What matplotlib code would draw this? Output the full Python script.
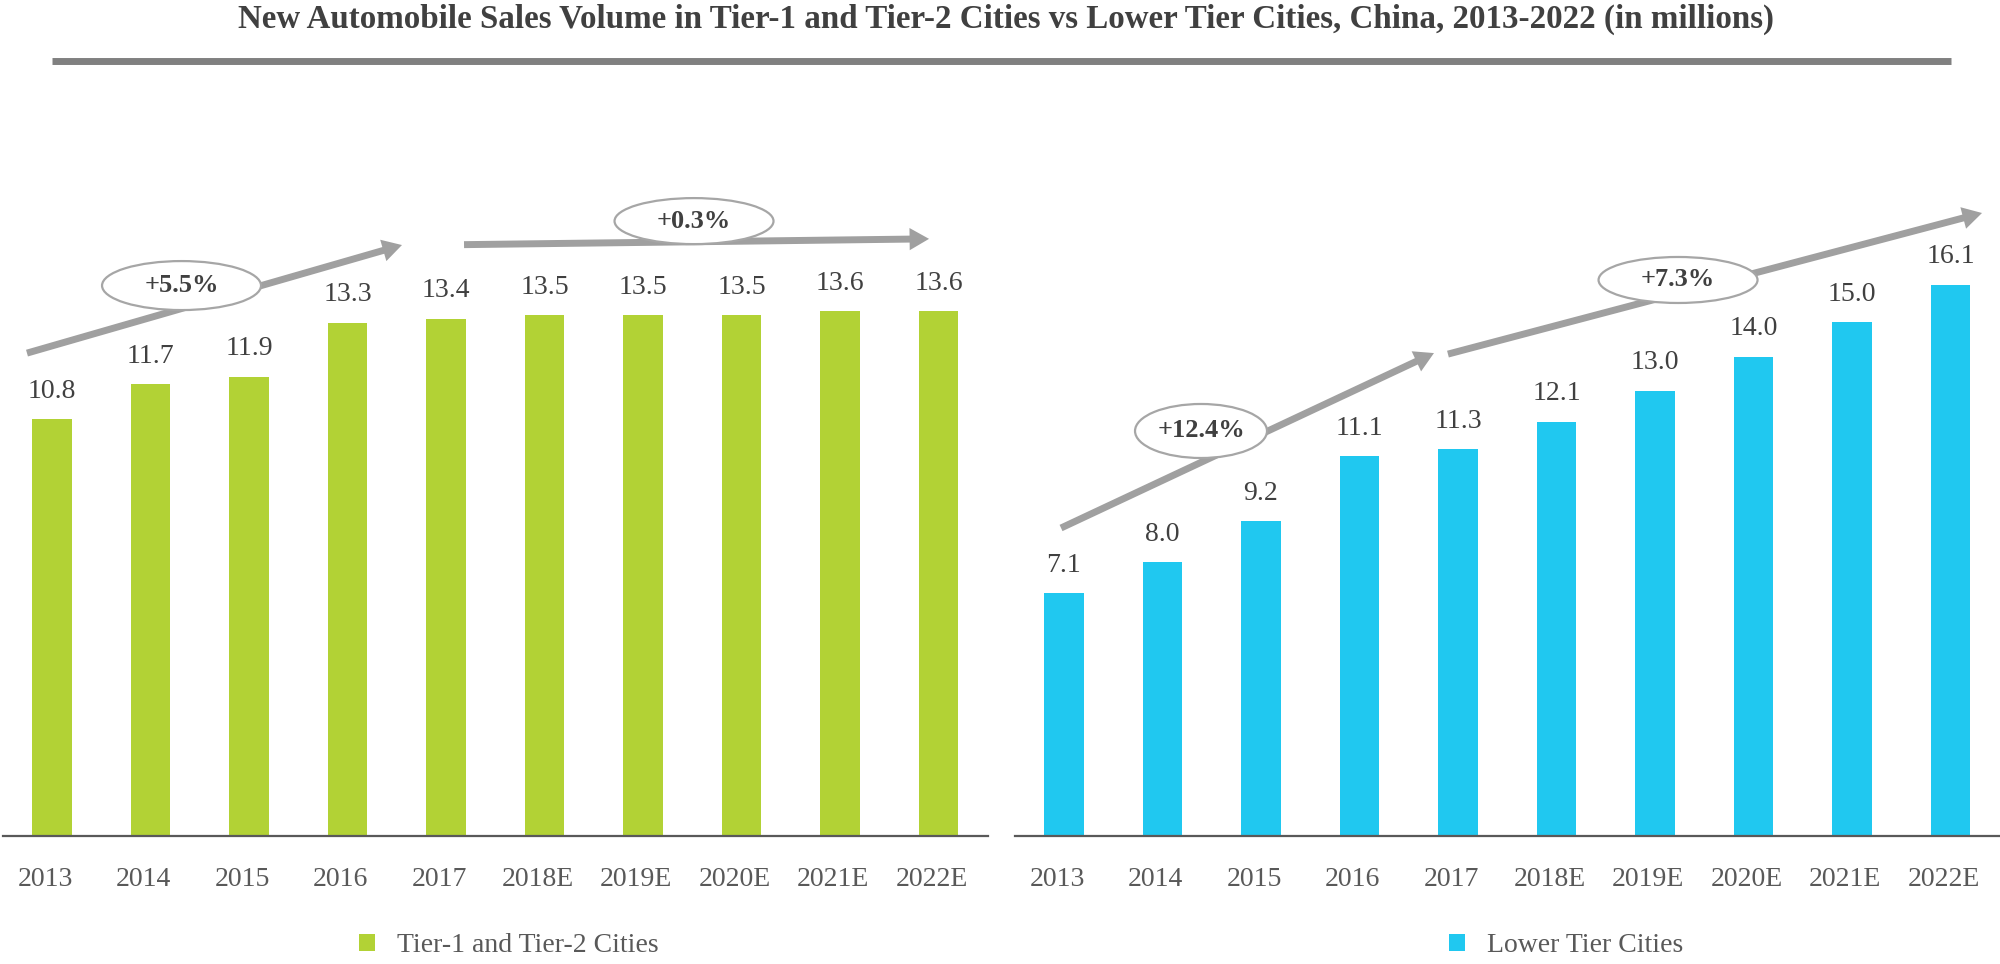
import matplotlib
matplotlib.use("Agg")
import matplotlib.pyplot as plt
from matplotlib.patches import Ellipse, FancyArrowPatch
from matplotlib.transforms import ScaledTranslation
from matplotlib.lines import Line2D

# ---------------- data ----------------
years = ["2013", "2014", "2015", "2016", "2017", "2018E", "2019E", "2020E", "2021E", "2022E"]
tier12 = [10.8, 11.7, 11.9, 13.3, 13.4, 13.5, 13.5, 13.5, 13.6, 13.6]
lower_tier = [7.1, 8.0, 9.2, 11.1, 11.3, 12.1, 13.0, 14.0, 15.0, 16.1]
series_names = ["Tier-1 and Tier-2 Cities", "Lower Tier Cities"]
cagr_left = ["+5.5%", "+0.3%"]
cagr_right = ["+12.4%", "+7.3%"]
title = ("New Automobile Sales Volume in Tier-1 and Tier-2 Cities vs Lower Tier Cities, "
         "China, 2013-2022 (in millions)")

# ---------------- style ----------------
GREEN = "#B2D235"
BLUE = "#20C8F0"
ARROW = "#A0A0A0"
DARK = "#404040"
TICK = "#595959"
SERIF = ["Liberation Serif", "DejaVu Serif"]
plt.rcParams["font.family"] = SERIF

W, H = 2000, 964
fig = plt.figure(figsize=(W / 100, H / 100), dpi=100)

def fx(px):
    return px / W

def fy(py):
    return 1 - py / H

base_px, top_px = 836, 100
ax_bottom = fy(base_px)
ax_height = (base_px - top_px) / H

axL = fig.add_axes([fx(2.75), ax_bottom, fx(985), ax_height])
axR = fig.add_axes([fx(1014.75), ax_bottom, fx(985), ax_height])

left_scale = 38.6   # px per unit
right_scale = 34.25
axL.set_ylim(0, (base_px - top_px) / left_scale)
axR.set_ylim(0, (base_px - top_px) / right_scale)

xs = list(range(len(years)))
for ax, vals, col, name in [(axL, tier12, GREEN, series_names[0]),
                            (axR, lower_tier, BLUE, series_names[1])]:
    bars = ax.bar(xs, vals, width=0.406, color=col, label=name, zorder=2)
    ax.bar_label(bars, labels=[f"{v:.1f}" for v in vals], padding=11,
                 fontsize=20, color=DARK, family=SERIF)
    ax.set_xlim(-0.5, len(years) - 0.5)
    ax.set_xticks(xs)
    ax.set_xticklabels(years, fontsize=20, color=TICK)
    ax.tick_params(axis="x", length=0, pad=22)
    ax.set_yticks([])
    for s in ["top", "left", "right"]:
        ax.spines[s].set_visible(False)
    ax.spines["bottom"].set_color(TICK)
    ax.spines["bottom"].set_linewidth(1.6)
    off = ScaledTranslation(-7 / 100, 0, fig.dpi_scale_trans)
    for lab in ax.get_xticklabels():
        lab.set_transform(lab.get_transform() + off)
    ax.patch.set_alpha(0)

# legends
for ax, x0 in [(axL, 359), (axR, 1449)]:
    ax.legend(loc="center left", bbox_to_anchor=(fx(x0), fy(946)),
              bbox_transform=fig.transFigure, frameon=False, fontsize=20,
              handlelength=0.58, handleheight=0.58, handletextpad=0.79,
              borderpad=0, borderaxespad=0, labelcolor=TICK)

# ---------------- arrows & CAGR ellipses ----------------
def arrow(ax, p0, p1):
    a = FancyArrowPatch(p0, p1, arrowstyle="simple,head_length=14,head_width=16,tail_width=5",
                        mutation_scale=1, color=ARROW, lw=0, zorder=3, clip_on=False,
                        shrinkA=0, shrinkB=0)
    ax.add_patch(a)

def bubble(ax, c, w, h, txt):
    e = Ellipse(c, w, h, facecolor="white", edgecolor="#A6A6A6", lw=1.6,
                zorder=4, clip_on=False)
    ax.add_patch(e)
    ax.text(c[0], c[1], txt, ha="center", va="center", fontsize=19,
            fontweight="bold", color=DARK, zorder=5)

arrow(axL, (-0.254, 12.51), (3.553, 15.31))
arrow(axL, (4.183, 15.32), (8.904, 15.47))
bubble(axL, (1.315, 14.26), 1.614, 1.269, cagr_left[0])
bubble(axL, (6.518, 15.93), 1.614, 1.192, cagr_left[1])

arrow(axR, (-0.030, 8.993), (3.756, 14.10))
arrow(axR, (3.898, 14.07), (9.320, 18.19))
bubble(axR, (1.391, 11.825), 1.340, 1.577, cagr_right[0])
bubble(axR, (6.234, 16.234), 1.614, 1.343, cagr_right[1])

# ---------------- title & rule ----------------
t = fig.text(0.5 + fx(6), fy(28), title, ha="center", va="baseline",
             fontsize=24, fontweight="bold", color=DARK)
fig.canvas.draw()
wpx = t.get_window_extent().width
t.set_fontsize(24 * 1536 / wpx)

fig.add_artist(Line2D([fx(52), fx(1951)], [fy(60.5), fy(60.5)],
                      transform=fig.transFigure, color="#808080", lw=5.0,
                      solid_capstyle="butt"))

fig.savefig("out.png", dpi=100, facecolor="white")
